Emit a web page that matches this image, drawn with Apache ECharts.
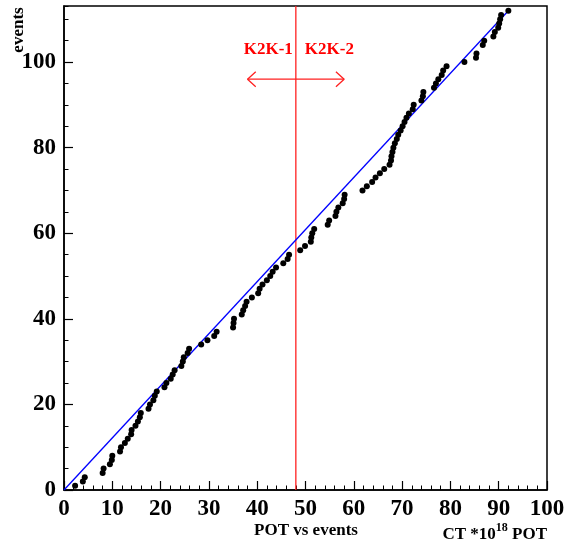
<!DOCTYPE html>
<html>
<head>
<meta charset="utf-8">
<script src="https://cdn.jsdelivr.net/npm/echarts@6/dist/echarts.min.js"></script>
<style>
html,body{margin:0;padding:0;background:#fff;}
#c{width:572px;height:541px;}
</style>
</head>
<body>
<div id="c"></div>
<script>
// cumulative POT (x, 10^18) at which each event was recorded
const potValues = [2.3,3.9,4.3,8.0,8.2,9.5,9.9,10.0,11.6,11.8,
  12.6,13.2,13.9,14.0,14.8,15.3,15.7,15.9,17.5,17.8,
  18.5,18.8,19.2,20.8,21.2,22.1,22.5,22.9,24.3,24.6,
  24.8,25.6,25.9,28.4,29.7,31.1,31.6,35.0,35.1,35.2,
  36.8,37.1,37.5,37.8,38.9,40.2,40.5,41.1,42.0,42.7,
  43.2,43.9,45.4,46.3,46.6,48.9,49.9,51.1,51.2,51.4,
  51.8,54.6,54.9,56.2,56.4,56.8,57.7,58.0,58.1,61.8,
  62.7,63.8,64.5,65.4,66.3,67.4,67.7,67.8,68.0,68.2,
  68.5,68.9,69.2,69.7,70.1,70.5,70.9,71.4,72.2,72.4,
  74.0,74.3,74.4,76.6,77.0,77.5,78.2,78.5,79.2,82.9,
  85.3,85.4,86.7,87.0,88.9,89.2,89.9,90.1,90.3,90.5,92.0];
// event counts
const eventCounts = [1,2,3,4,5,6,7,8,9,10,
  11,12,13,14,15,16,17,18,19,20,
  21,22,23,24,25,26,27,28,29,30,
  31,32,33,34,35,36,37,38,39,40,
  41,42,43,44,45,46,47,48,49,50,
  51,52,53,54,55,56,57,58,59,60,
  61,62,63,64,65,66,67,68,69,70,
  71,72,73,74,75,76,77,78,79,80,
  81,82,83,84,85,86,87,88,89,90,
  91,92,93,94,95,96,97,98,99,100,
  101,102,104,105,106,107,108,109,110,111,112];
// straight reference line (x, y)
const fitX = [0, 92];
const fitY = [0, 112];
// K2K-1 / K2K-2 boundary
const boundaryPOT = 48;
const yMax = 113.1;
// arrow (x range, y level, head size in data units)
const arrowX = [38, 58];
const arrowY = 96;
const headDx = 1.7, headDy = 1.75;
const xTicks = [0,10,20,30,40,50,60,70,80,90,100];
const yTicks = [0,20,40,60,80,100];

const FONT = 'Liberation Serif';
const chart = echarts.init(document.getElementById('c'));
const pts = potValues.map((v,i)=>[v, eventCounts[i]]);
chart.setOption({
  animation:false,
  backgroundColor:'#fff',
  grid:{left:64, right:25, top:6, bottom:51, show:true, borderColor:'#000', borderWidth:1.5, backgroundColor:'transparent'},
  xAxis:{type:'value', min:xTicks[0], max:xTicks[xTicks.length-1], interval:10,
    axisLine:{lineStyle:{color:'#000', width:1.5}, onZero:false},
    axisTick:{inside:true, length:9, lineStyle:{color:'#000', width:1.2}},
    minorTick:{show:true, splitNumber:5, length:4.5, lineStyle:{color:'#000', width:1}},
    axisLabel:{fontFamily:FONT, fontWeight:'bold', fontSize:23, color:'#000', margin:8},
    splitLine:{show:false}},
  yAxis:[{type:'value', min:yTicks[0], max:yMax, interval:20,
    axisLine:{lineStyle:{color:'#000', width:1.5}, onZero:false},
    axisTick:{inside:true, length:9, lineStyle:{color:'#000', width:1.2}},
    axisLabel:{fontFamily:FONT, fontWeight:'bold', fontSize:23, color:'#000', margin:8, showMaxLabel:false,
      formatter:v=> yTicks.indexOf(v)>=0 ? String(v) : ''},
    splitLine:{show:false}},
    {type:'value', min:yTicks[0], max:yMax, interval:5, position:'left', offset:0,
    axisLine:{show:false},
    axisTick:{inside:true, length:4.5, lineStyle:{color:'#000', width:1}},
    axisLabel:{show:false},
    splitLine:{show:false}}],
  series:[
    {type:'line', data:[[boundaryPOT,0],[boundaryPOT,yMax]], symbol:'none', lineStyle:{color:'#ff2020', width:1.3}, z:2},
    {type:'line', data:[[arrowX[0],arrowY],[arrowX[1],arrowY]], symbol:'none', lineStyle:{color:'#ff2020', width:1.3}},
    {type:'line', data:[[arrowX[0]+headDx,arrowY+headDy],[arrowX[0],arrowY],[arrowX[0]+headDx,arrowY-headDy]], symbol:'none', lineStyle:{color:'#ff2020', width:1.3}},
    {type:'line', data:[[arrowX[1]-headDx,arrowY+headDy],[arrowX[1],arrowY],[arrowX[1]-headDx,arrowY-headDy]], symbol:'none', lineStyle:{color:'#ff2020', width:1.3}},
    {type:'line', data:[[fitX[0],fitY[0]],[fitX[1],fitY[1]]], symbol:'none', lineStyle:{color:'#0000ff', width:1.3}, z:3},
    {type:'scatter', data:pts, symbol:'circle', symbolSize:6, itemStyle:{color:'#000', opacity:1}, z:4}
  ]
});
const p = chart.convertToPixel({gridIndex:0}, [boundaryPOT, 102.8]);
const ctx = document.createElement('canvas').getContext('2d');
const fBig = 'bold 17px "'+FONT+'"', fSmall = 'bold 12px "'+FONT+'"';
ctx.font = fBig; const wPot = ctx.measureText(' POT').width;
ctx.font = fSmall; const w18 = ctx.measureText('18').width;
const rightX = 547, baseY = 543;
chart.setOption({graphic:[
  {type:'text', x:p[0]-3, y:p[1], style:{text:'K2K-1', fill:'#ff0000', font:fBig, textAlign:'right', textVerticalAlign:'middle'}},
  {type:'text', x:p[0]+9, y:p[1], style:{text:'K2K-2', fill:'#ff0000', font:fBig, textAlign:'left', textVerticalAlign:'middle'}},
  {type:'text', x:19, y:30, rotation:Math.PI/2, style:{text:'events', fill:'#000', font:fBig, textAlign:'center', textVerticalAlign:'middle'}},
  {type:'text', x:306, y:531, style:{text:'POT vs events', fill:'#000', font:fBig, textAlign:'center', textVerticalAlign:'middle'}},
  {type:'text', x:rightX, y:baseY, style:{text:' POT', fill:'#000', font:fBig, textAlign:'right', textVerticalAlign:'bottom'}},
  {type:'text', x:rightX-wPot, y:baseY-9, style:{text:'18', fill:'#000', font:fSmall, textAlign:'right', textVerticalAlign:'bottom'}},
  {type:'text', x:rightX-wPot-w18, y:baseY, style:{text:'CT *10', fill:'#000', font:fBig, textAlign:'right', textVerticalAlign:'bottom'}}
]});
</script>
</body>
</html>
